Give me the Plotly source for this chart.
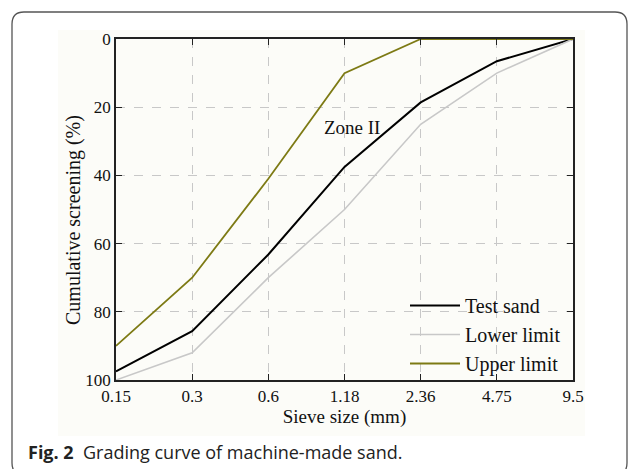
import plotly.graph_objects as go

# Sieve sizes (mm) and cumulative screening (%) for each grading curve
sieve_sizes = ["0.15", "0.3", "0.6", "1.18", "2.36", "4.75", "9.5"]
test_sand = [97.5, 85.7, 63.2, 37.5, 18.6, 6.5, 0]
lower_limit = [100, 92, 70, 50, 25, 10, 0]
upper_limit = [90, 70, 41, 10, 0, 0, 0]
y_ticks = [0, 20, 40, 60, 80, 100]

W, H = 630, 469
PL, PR, PT, PB = 116, 573, 39, 380  # plot-area edges in pixels


def px(x):
    return (x - PL) / (PR - PL)


def py(y):
    return (PB - y) / (PB - PT)


def rounded_rect(x0, y0, x1, y1, r):
    pts = [
        f"M {px(x0 + r)} {py(y0)}",
        f"L {px(x1 - r)} {py(y0)}",
        f"Q {px(x1)} {py(y0)} {px(x1)} {py(y0 + r)}",
        f"L {px(x1)} {py(y1 - r)}",
        f"Q {px(x1)} {py(y1)} {px(x1 - r)} {py(y1)}",
        f"L {px(x0 + r)} {py(y1)}",
        f"Q {px(x0)} {py(y1)} {px(x0)} {py(y1 - r)}",
        f"L {px(x0)} {py(y0 + r)}",
        f"Q {px(x0)} {py(y0)} {px(x0 + r)} {py(y0)}",
        "Z",
    ]
    return " ".join(pts)


SERIF = "Liberation Serif"

fig = go.Figure()
fig.add_trace(go.Scatter(x=sieve_sizes, y=test_sand, mode="lines", name="Test sand",
                         line=dict(color="#000000", width=2)))
fig.add_trace(go.Scatter(x=sieve_sizes, y=lower_limit, mode="lines", name="Lower limit",
                         line=dict(color="#c8c8c8", width=1.6)))
fig.add_trace(go.Scatter(x=sieve_sizes, y=upper_limit, mode="lines", name="Upper limit",
                         line=dict(color="#7d7a14", width=1.8)))

shapes = [
    # light panel behind the chart
    dict(type="rect", xref="paper", yref="paper", layer="below",
         x0=px(58), x1=px(585), y0=py(436), y1=py(30),
         fillcolor="#fcfcf8", line=dict(width=0)),
    # rounded frame around the figure
    dict(type="path", xref="paper", yref="paper", layer="above",
         path=rounded_rect(12, 12, 627, 475, 12),
         line=dict(color="#555555", width=1.3)),
]

annotations = [
    dict(text="Zone II", x=3.1, y=26, xref="x", yref="y", showarrow=False,
         font=dict(family=SERIF, size=19, color="#111111")),
    dict(text="<b>Fig. 2</b>  Grading curve of machine-made sand.",
         xref="paper", yref="paper", x=px(26), y=py(452), xanchor="left", yanchor="middle",
         showarrow=False, font=dict(family="Open Sans", size=18, color="#222222")),
    # y-axis title, placed explicitly
    dict(text="Cumulative screening (%)", xref="paper", yref="paper",
         x=px(73), y=py(220), textangle=-90, showarrow=False,
         xanchor="center", yanchor="middle",
         font=dict(family=SERIF, size=20, color="#111111")),
]

fig.update_layout(
    width=W, height=H,
    margin=dict(l=PL, r=W - PR, t=PT, b=H - PB),
    paper_bgcolor="white",
    plot_bgcolor="#fcfcf8",
    font=dict(family=SERIF, size=17, color="#111111"),
    shapes=shapes,
    annotations=annotations,
    showlegend=True,
    legend=dict(x=px(405), y=py(286), xanchor="left", yanchor="top",
                bgcolor="rgba(0,0,0,0)", font=dict(family=SERIF, size=20),
                tracegroupgap=0, itemwidth=50),
)

fig.update_xaxes(
    type="category", range=[0, 6],
    tickvals=sieve_sizes, ticktext=sieve_sizes,
    showline=True, linecolor="#222222", linewidth=1.5, mirror="ticks",
    ticks="inside", ticklen=6, tickcolor="#222222",
    showgrid=True, gridcolor="#c8c8c8", griddash="dash", gridwidth=1,
    zeroline=False,
    tickfont=dict(family=SERIF, size=17),
    title=dict(text="Sieve size (mm)", font=dict(family=SERIF, size=19), standoff=0),
)
fig.update_yaxes(
    range=[100, 0], tickvals=y_ticks,
    showline=True, linecolor="#222222", linewidth=1.5, mirror="ticks",
    ticks="inside", ticklen=6, tickcolor="#222222",
    showgrid=True, gridcolor="#c8c8c8", griddash="dash", gridwidth=1,
    zeroline=False,
    tickfont=dict(family=SERIF, size=17),
)

fig.write_html("out.html")
